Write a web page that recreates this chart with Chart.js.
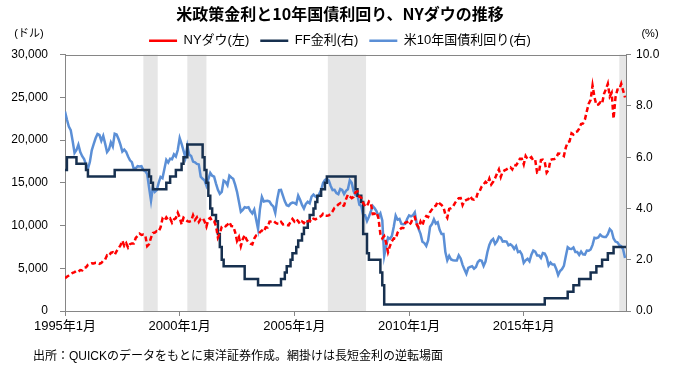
<!DOCTYPE html>
<html>
<head>
<meta charset="utf-8">
<script src="https://cdn.jsdelivr.net/npm/chart.js@4.4.1/dist/chart.umd.min.js"></script>
<style>
  html, body { margin: 0; padding: 0; background: #fff; }
</style>
</head>
<body>
<canvas id="graph" width="680" height="370"></canvas>
<script>
// months counted from 1995年1月 (index 0), one value per month
const startYear = 1995;
const axisEnd = 293.5;

// NYダウ (ドル), 1995/1 .. 2019/6
const dow = [
  3843, 4011, 4157, 4321, 4465, 4556, 4708, 4610, 4789, 4755, 5074, 5117,
  5395, 5485, 5587, 5569, 5643, 5654, 5529, 5616, 5882, 6029, 6522, 6448,
  6813, 6877, 6583, 7009, 7331, 7673, 8222, 7622, 7945, 7442, 7823, 7908,
  7907, 8546, 8800, 9063, 8900, 8952, 8883, 7600, 7843, 8592, 9117, 9181,
  9359, 9307, 9786, 10789, 10560, 10971, 10655, 10829, 10337, 10729, 10878, 11497,
  10941, 10128, 10922, 10734, 10522, 10448, 10522, 11215, 10651, 10971, 10415, 10787,
  10887, 10495, 9879, 10735, 10912, 10502, 10523, 9950, 8600, 9075, 9852, 10022,
  9920, 10106, 10404, 9946, 9925, 9243, 8200, 8664, 7600, 8397, 8896, 8342,
  8054, 7891, 7800, 8480, 8850, 8985, 9234, 9416, 9275, 9801, 9782, 10454,
  10488, 10584, 10358, 10226, 10188, 10435, 10140, 10174, 10080, 10027, 10428, 10783,
  10490, 10766, 10504, 10193, 10467, 10275, 10641, 10482, 10569, 10440, 10806, 10718,
  10865, 10993, 11109, 11367, 11168, 11150, 11186, 11381, 11679, 12081, 12222, 12463,
  12622, 12269, 12354, 13063, 13628, 13409, 13212, 13358, 13896, 14000, 13372, 13265,
  12650, 12266, 12263, 12820, 12638, 11350, 11378, 11544, 10851, 9000, 8500, 8776,
  8001, 6900, 7609, 8168, 8500, 8447, 9172, 9496, 9712, 9713, 10345, 10428,
  10067, 10325, 10857, 11009, 10137, 9774, 10466, 10015, 10788, 11118, 11006, 11578,
  11892, 12226, 12320, 12811, 12570, 12414, 12143, 11300, 10913, 11955, 12046, 12218,
  12633, 12952, 13212, 13214, 12393, 12880, 13009, 13091, 13437, 13096, 13026, 13104,
  13861, 14054, 14579, 14840, 15116, 14910, 15500, 14810, 15130, 15546, 16086, 16577,
  15699, 16322, 16458, 16581, 16717, 16827, 16563, 17098, 17043, 17391, 17828, 17823,
  17165, 18133, 17776, 17841, 18011, 17620, 17690, 16200, 16285, 17664, 17720, 17425,
  16200, 16517, 17685, 17774, 17787, 17930, 18432, 18401, 18308, 18142, 19124, 19763,
  19864, 20812, 20663, 20941, 21009, 21350, 21891, 21948, 22405, 23377, 24272, 24719,
  26400, 25029, 24103, 24163, 24416, 24271, 25415, 25965, 26600, 25116, 25538, 22500,
  24999, 25916, 25929, 26593, 25800, 25000
];

// 米10年国債利回り (%), 1995/1 .. 2019/6
const yield10 = [
  7.78, 7.47, 7.20, 7.06, 6.63, 6.17, 6.28, 6.49, 6.20, 6.04, 5.93, 5.71,
  5.55, 5.81, 6.27, 6.51, 6.74, 6.91, 6.87, 6.64, 6.83, 6.53, 6.20, 6.30,
  6.58, 6.42, 6.92, 6.89, 6.71, 6.49, 6.22, 6.30, 6.21, 6.03, 5.88, 5.81,
  5.54, 5.57, 5.65, 5.64, 5.65, 5.50, 5.46, 5.34, 4.81, 4.30, 4.83, 4.65,
  4.72, 5.00, 5.23, 5.18, 5.54, 5.90, 5.79, 5.94, 5.92, 6.11, 6.03, 6.28,
  6.75, 6.52, 6.26, 5.99, 6.44, 6.10, 6.05, 5.83, 5.80, 5.74, 5.72, 5.24,
  5.16, 5.10, 4.89, 5.14, 5.39, 5.28, 5.24, 4.97, 4.73, 4.57, 4.65, 5.09,
  5.04, 4.91, 5.28, 5.21, 5.16, 4.93, 4.65, 4.26, 3.87, 3.94, 4.05, 4.03,
  4.05, 3.90, 3.81, 3.96, 3.57, 3.20, 3.98, 4.45, 4.27, 4.29, 4.30, 4.27,
  4.15, 4.08, 3.83, 4.35, 4.72, 4.73, 4.50, 4.28, 4.13, 4.10, 4.19, 4.23,
  4.22, 4.17, 4.50, 4.34, 4.14, 4.00, 4.18, 4.26, 4.20, 4.46, 4.54, 4.47,
  4.42, 4.57, 4.72, 4.99, 5.11, 5.15, 5.09, 4.88, 4.72, 4.73, 4.60, 4.56,
  4.76, 4.72, 4.56, 4.69, 4.75, 5.10, 5.00, 4.67, 4.52, 4.53, 4.15, 4.10,
  3.74, 3.74, 3.51, 3.68, 3.88, 4.10, 4.01, 3.89, 3.69, 3.81, 3.53, 2.15,
  2.52, 2.87, 2.82, 2.93, 3.29, 3.72, 3.56, 3.59, 3.40, 3.39, 3.40, 3.59,
  3.73, 3.69, 3.73, 3.85, 3.42, 3.20, 3.01, 2.70, 2.65, 2.54, 2.76, 3.29,
  3.39, 3.58, 3.41, 3.46, 3.17, 3.00, 3.00, 2.30, 1.98, 2.15, 2.01, 1.98,
  1.97, 1.97, 2.17, 2.05, 1.80, 1.62, 1.45, 1.68, 1.72, 1.75, 1.65, 1.72,
  1.91, 1.98, 1.96, 1.76, 1.93, 2.30, 2.58, 2.74, 2.81, 2.62, 2.72, 2.90,
  2.86, 2.71, 2.72, 2.71, 2.56, 2.60, 2.54, 2.42, 2.53, 2.30, 2.33, 2.21,
  1.88, 1.98, 2.04, 1.94, 2.20, 2.36, 2.32, 2.17, 2.17, 2.07, 2.26, 2.24,
  2.09, 1.78, 1.89, 1.81, 1.81, 1.64, 1.40, 1.56, 1.63, 1.76, 2.14, 2.49,
  2.43, 2.42, 2.48, 2.30, 2.30, 2.19, 2.32, 2.21, 2.20, 2.36, 2.35, 2.40,
  2.58, 2.86, 2.84, 2.87, 2.98, 2.91, 2.89, 2.89, 3.00, 3.20, 3.12, 2.83,
  2.71, 2.68, 2.57, 2.53, 2.40, 2.07
];

// FF金利 (%): month index where the target changed, and the new rate
const ffMonth = [0, 1, 6, 11, 12, 26, 44, 45, 46, 53, 55, 58, 61, 62, 64,
  72, 73, 74, 75, 76, 77, 79, 80, 81, 82, 83, 94, 101,
  113, 115, 116, 118, 119, 121, 122, 124, 125, 127, 128, 130, 131,
  132, 134, 136, 137, 152, 153, 155, 156, 158, 159, 165, 166, 167,
  251, 263, 266, 269, 275, 278, 281, 284, 287, 293.5];
const ffRate = [5.5, 6.0, 5.75, 5.5, 5.25, 5.5, 5.25, 5.0, 4.75, 5.0, 5.25, 5.5, 5.75, 6.0, 6.5,
  6.0, 5.5, 5.0, 4.5, 4.0, 3.75, 3.5, 3.0, 2.5, 2.0, 1.75, 1.25, 1.0,
  1.25, 1.5, 1.75, 2.0, 2.25, 2.5, 2.75, 3.0, 3.25, 3.5, 3.75, 4.0, 4.25,
  4.5, 4.75, 5.0, 5.25, 4.75, 4.5, 4.25, 3.0, 2.25, 2.0, 1.5, 1.0, 0.25,
  0.5, 0.75, 1.0, 1.25, 1.5, 1.75, 2.0, 2.25, 2.5, 2.5];

// 長短金利の逆転場面 (網掛け), month index from / to
const shadeFrom = [41, 64, 137.5, 290];
const shadeTo = [48.5, 74, 157.5, 293.5];

const FONT = '"Liberation Sans", "Noto Sans CJK JP", sans-serif';
const GRAY = '#868686';

const asPoints = arr => arr.map((v, i) => ({ x: i, y: v }));

const backdrop = {
  id: 'backdrop',
  beforeDatasetsDraw(chart) {
    const { ctx, chartArea: a, scales: { x } } = chart;
    ctx.save();
    ctx.fillStyle = '#e6e6e6';
    shadeFrom.forEach((m, i) => {
      const x0 = x.getPixelForValue(m);
      const x1 = x.getPixelForValue(shadeTo[i]);
      ctx.fillRect(x0, a.top, x1 - x0, a.bottom - a.top);
    });
    ctx.strokeStyle = GRAY;
    ctx.lineWidth = 1;
    ctx.strokeRect(Math.round(a.left) + 0.5, Math.round(a.top) + 0.5,
      Math.round(a.right - a.left), Math.round(a.bottom - a.top));
    ctx.restore();
  },
  afterDraw(chart) {
    const { ctx } = chart;
    ctx.save();
    ctx.fillStyle = '#000';
    ctx.font = '11px ' + FONT;
    ctx.textAlign = 'center';
    ctx.textBaseline = 'middle';
    ctx.fillText('(ドル)', 29, 34);
    ctx.fillText('(%)', 650, 34);
    ctx.textAlign = 'left';
    ctx.font = '12px ' + FONT;
    ctx.fillText('出所：QUICKのデータをもとに東洋証券作成。網掛けは長短金利の逆転場面', 33, 357);
    ctx.restore();
  }
};

Chart.defaults.font.family = FONT;
Chart.defaults.color = '#000';

const graph = document.getElementById('graph').getContext('2d');

new Chart(graph, {
  type: 'line',
  data: {
    datasets: [
      {
        label: 'NYダウ(左)',
        data: asPoints(dow),
        yAxisID: 'y',
        borderColor: '#ff0000',
        backgroundColor: '#ff0000',
        borderWidth: 2.5,
        borderDash: [5, 3],
        pointRadius: 0,
        tension: 0
      },
      {
        label: 'FF金利(右)',
        data: ffMonth.map((m, i) => ({ x: m, y: ffRate[i] })),
        yAxisID: 'y2',
        borderColor: '#17304f',
        backgroundColor: '#17304f',
        borderWidth: 2.5,
        stepped: true,
        pointRadius: 0
      },
      {
        label: '米10年国債利回り(右)',
        data: asPoints(yield10),
        yAxisID: 'y2',
        borderColor: '#5b8fd6',
        backgroundColor: '#5b8fd6',
        borderWidth: 2.5,
        pointRadius: 0,
        tension: 0
      }
    ]
  },
  options: {
    responsive: false,
    animation: false,
    layout: { padding: { top: 0, bottom: 0, left: 0, right: 0 } },
    plugins: {
      title: {
        display: true,
        text: '米政策金利と10年国債利回り、NYダウの推移',
        font: { family: '"Noto Sans CJK JP"', size: 16, weight: 'bold' },
        padding: { top: 4, bottom: 0 }
      },
      legend: {
        maxHeight: 31.5,
        labels: {
          usePointStyle: true,
          pointStyle: 'line',
          pointStyleWidth: 28,
          boxHeight: 12,
          padding: 11,
          font: { size: 13 }
        }
      },
      tooltip: { enabled: false }
    },
    scales: {
      x: {
        type: 'linear',
        min: 0,
        max: axisEnd,
        afterBuildTicks: s => { s.ticks = s.ticks.filter(t => t.value % 60 === 0); },
        afterFit: s => { s.height = 59; },
        ticks: {
          stepSize: 60,
          maxRotation: 0,
          padding: 3,
          font: { size: 13 },
          callback: v => (startYear + v / 12) + '年1月'
        },
        grid: { drawOnChartArea: false, color: GRAY, tickLength: 5 },
        border: { color: GRAY }
      },
      y: {
        position: 'left',
        min: 0,
        max: 30000,
        afterFit: s => { s.width = 65; },
        ticks: {
          stepSize: 5000,
          padding: 12,
          font: { size: 12 },
          callback: v => v.toLocaleString('en-US')
        },
        grid: { drawOnChartArea: false, color: GRAY, tickLength: 5 },
        border: { color: GRAY }
      },
      y2: {
        position: 'right',
        min: 0,
        max: 10,
        afterFit: s => { s.width = 54; },
        ticks: {
          stepSize: 2,
          padding: 5,
          font: { size: 12 },
          callback: v => v.toFixed(1)
        },
        grid: { drawOnChartArea: false, color: GRAY, tickLength: 5 },
        border: { color: GRAY }
      }
    }
  },
  plugins: [backdrop]
});
</script>
</body>
</html>
